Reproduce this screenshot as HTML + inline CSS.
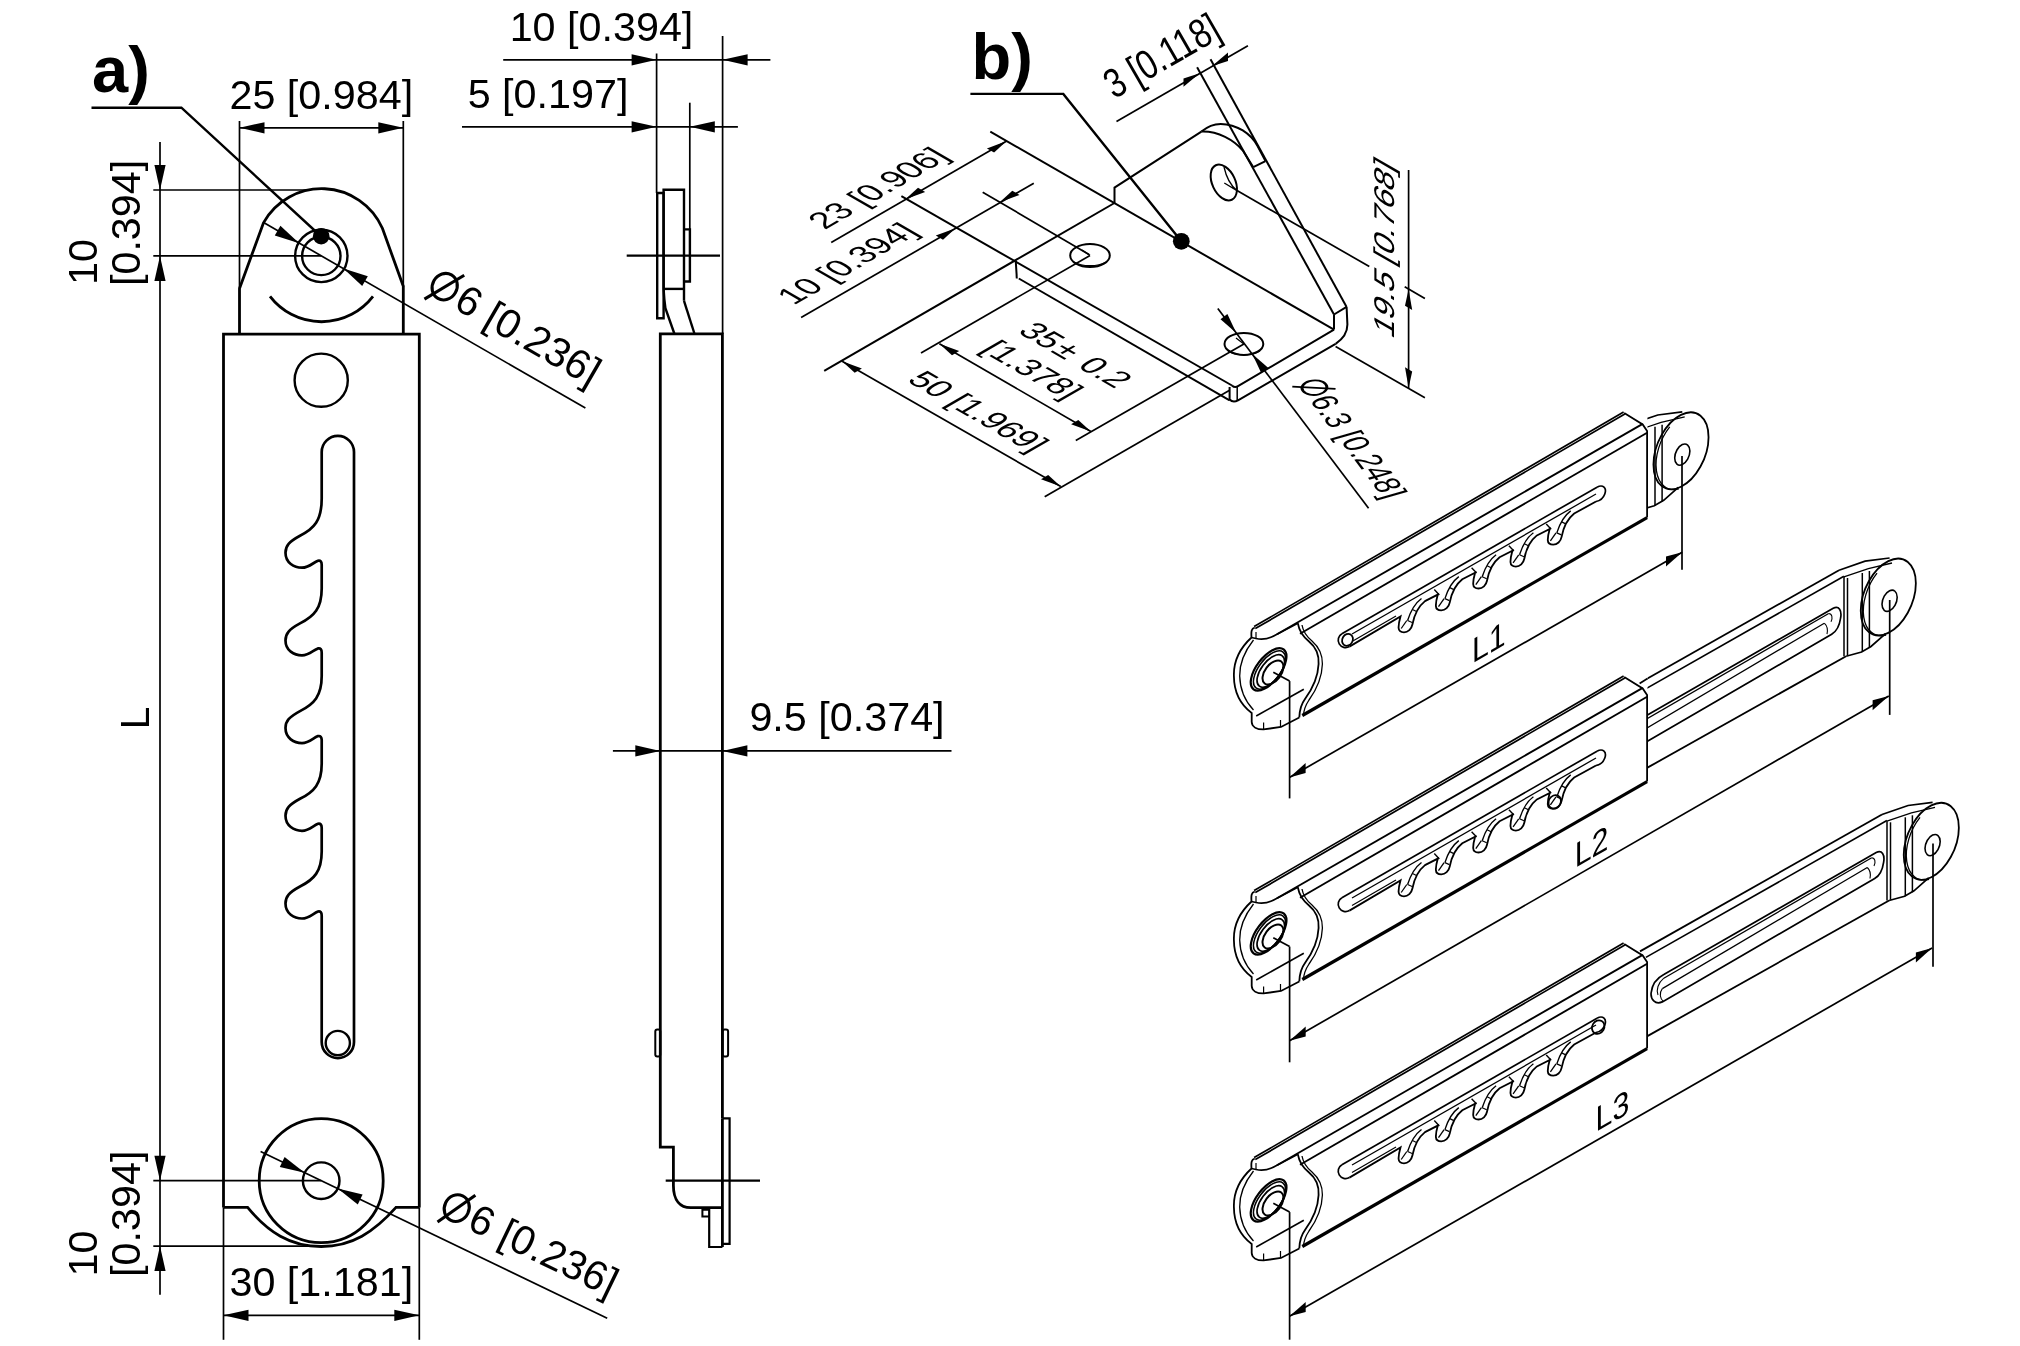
<!DOCTYPE html>
<html><head><meta charset="utf-8"><style>
html,body{margin:0;padding:0;background:#fff;}
svg{display:block;}
text{font-family:"Liberation Sans",sans-serif;fill:#000;stroke:none;}
svg{will-change:transform;}
</style></head><body>
<svg width="2020" height="1346" viewBox="0 0 2020 1346" stroke="#000" stroke-linecap="butt" stroke-linejoin="miter" fill="none">
<rect width="2020" height="1346" fill="#fff" stroke="none"/>
<text x="92" y="92" font-size="65" text-anchor="start" font-weight="bold">a)</text>
<polyline points="91.5,107.7 181.4,107.7 321.2,236.5" stroke-width="2.4" fill="none"/>
<circle cx="321.2" cy="236.2" r="8.3" stroke-width="0" fill="#000"/>
<text x="321.3" y="109.3" font-size="41.3" text-anchor="middle" font-weight="normal">25 [0.984]</text>
<line x1="239.5" y1="121" x2="239.5" y2="288" stroke-width="1.7"/>
<line x1="403.3" y1="121" x2="403.3" y2="287" stroke-width="1.7"/>
<line x1="239.5" y1="127.8" x2="403.3" y2="127.8" stroke-width="1.7"/>
<polygon points="239.5,127.8 264.5,122.2 264.5,133.4" fill="#000" stroke="none"/>
<polygon points="403.3,127.8 378.3,133.4 378.3,122.2" fill="#000" stroke="none"/>
<path d="M239.5,334 L239.5,288.4 L263.6,222.6 A66.5,66.5 0 0 1 382.4,228.3 L403.3,286.3 L403.3,334" stroke-width="2.8" fill="none"/>
<circle cx="321.3" cy="255.9" r="26.2" stroke-width="2.4" fill="none"/>
<circle cx="321.3" cy="255.9" r="19.2" stroke-width="2.4" fill="none"/>
<path d="M270,296.4 A65,65 0 0 0 373,296.4" stroke-width="2.8" fill="none"/>
<line x1="153.3" y1="190" x2="308.8" y2="190" stroke-width="1.7"/>
<line x1="153.3" y1="255.9" x2="321.3" y2="255.9" stroke-width="1.7"/>
<line x1="160" y1="142" x2="160" y2="1294.7" stroke-width="1.7"/>
<polygon points="160,190 154.4,165 165.6,165" fill="#000" stroke="none"/>
<polygon points="160,255.9 165.6,280.9 154.4,280.9" fill="#000" stroke="none"/>
<polygon points="160,1180.7 154.4,1155.7 165.6,1155.7" fill="#000" stroke="none"/>
<polygon points="160,1246.1 165.6,1271.1 154.4,1271.1" fill="#000" stroke="none"/>
<text x="0" y="0" font-size="41.3" text-anchor="middle" font-weight="normal" transform="translate(97.0,262.0) rotate(-90)">10</text>
<text x="0" y="0" font-size="41.3" text-anchor="middle" font-weight="normal" transform="translate(139.6,222.9) rotate(-90)">[0.394]</text>
<text x="0" y="0" font-size="41.3" text-anchor="start" font-weight="normal" transform="translate(148.6,729.6) rotate(-90)">L</text>
<line x1="263.6" y1="222.6" x2="585.4" y2="408.1" stroke-width="1.7"/>
<polygon points="299.2,243.2 274.8,235.5 280.4,225.8" fill="#000" stroke="none"/>
<polygon points="343.4,268.6 367.8,276.3 362.2,286" fill="#000" stroke="none"/>
<g transform="matrix(0.8660,0.5000,-0.5000,0.8660,424.8,291.7)">
<ellipse cx="14.7" cy="-14.3" rx="12.3" ry="13.6" stroke-width="3.1" fill="none"/>
<line x1="3.4" y1="6.6" x2="25.9" y2="-34" stroke-width="3.1"/>
<text x="31.6" y="0" font-size="41">6 [0.236]</text>
</g>
<path d="M223.5,1207.4 L223.5,334.1 L419.3,334.1 L419.3,1207.4" stroke-width="2.8" fill="none"/>
<circle cx="321.2" cy="380.2" r="26.6" stroke-width="2.4" fill="none"/>
<path d="M354,1042 L354,452 A16.15,16.15 0 0 0 321.7,452 L321.7,498.4 C321.7,520.7 314,528.7 300,535.7 C289,541.7 285.5,545.7 285.5,552.7 C285.5,562.7 294,567.7 302,567.7 C309,567.7 313,562.7 318,560.7 C320.5,560.2 321.7,561.7 321.7,564.7 L321.7,588.4 C321.7,608.4 314,616.4 300,623.4 C289,629.4 285.5,633.4 285.5,640.4 C285.5,650.4 294,655.4 302,655.4 C309,655.4 313,650.4 318,648.4 C320.5,647.9 321.7,649.4 321.7,652.4 L321.7,676.1 C321.7,696.1 314,704.1 300,711.1 C289,717.1 285.5,721.1 285.5,728.1 C285.5,738.1 294,743.1 302,743.1 C309,743.1 313,738.1 318,736.1 C320.5,735.6 321.7,737.1 321.7,740.1 L321.7,763.8 C321.7,783.8 314,791.8 300,798.8 C289,804.8 285.5,808.8 285.5,815.8 C285.5,825.8 294,830.8 302,830.8 C309,830.8 313,825.8 318,823.8 C320.5,823.3 321.7,824.8 321.7,827.8 L321.7,851.5 C321.7,871.5 314,879.5 300,886.5 C289,892.5 285.5,896.5 285.5,903.5 C285.5,913.5 294,918.5 302,918.5 C309,918.5 313,913.5 318,911.5 C320.5,911 321.7,912.5 321.7,915.5 L321.7,1042 A16.15,16.15 0 0 0 354,1042" stroke-width="2.7" fill="none"/>
<circle cx="337.8" cy="1043" r="12.1" stroke-width="2.4" fill="none"/>
<path d="M223.5,1207.4 L247.6,1207.4 C268,1232 290,1246.5 321.2,1246.5 C352,1246.5 374,1232 396,1207.4 L419.3,1207.4" stroke-width="2.8" fill="none"/>
<circle cx="321.2" cy="1180.7" r="62" stroke-width="2.8" fill="none"/>
<circle cx="321.2" cy="1180.7" r="18.3" stroke-width="2.4" fill="none"/>
<line x1="153.3" y1="1180.7" x2="321.2" y2="1180.7" stroke-width="1.7"/>
<line x1="153.3" y1="1246.1" x2="328.8" y2="1246.1" stroke-width="1.7"/>
<text x="0" y="0" font-size="41.3" text-anchor="middle" font-weight="normal" transform="translate(97.0,1253.5) rotate(-90)">10</text>
<text x="0" y="0" font-size="41.3" text-anchor="middle" font-weight="normal" transform="translate(139.6,1213.8) rotate(-90)">[0.394]</text>
<line x1="223.5" y1="1207.4" x2="223.5" y2="1339.8" stroke-width="1.7"/>
<line x1="419.3" y1="1207.4" x2="419.3" y2="1339.8" stroke-width="1.7"/>
<line x1="223.5" y1="1315.3" x2="419.3" y2="1315.3" stroke-width="1.7"/>
<polygon points="223.5,1315.3 248.5,1309.7 248.5,1320.9" fill="#000" stroke="none"/>
<polygon points="419.3,1315.3 394.3,1320.9 394.3,1309.7" fill="#000" stroke="none"/>
<text x="321.3" y="1295.7" font-size="41.3" text-anchor="middle" font-weight="normal">30 [1.181]</text>
<line x1="260.6" y1="1151.5" x2="607.2" y2="1318.2" stroke-width="1.7"/>
<polygon points="304.7,1172.8 279.8,1167 284.6,1156.9" fill="#000" stroke="none"/>
<polygon points="337.7,1188.6 362.6,1194.4 357.8,1204.5" fill="#000" stroke="none"/>
<g transform="matrix(0.9011,0.4337,-0.4337,0.9011,437.3,1214.6)">
<ellipse cx="14.7" cy="-14.3" rx="12.3" ry="13.6" stroke-width="3.1" fill="none"/>
<line x1="3.4" y1="6.6" x2="25.9" y2="-34" stroke-width="3.1"/>
<text x="31.6" y="0" font-size="41">6 [0.236]</text>
</g>
<text x="601.5" y="41.1" font-size="41.3" text-anchor="middle" font-weight="normal">10 [0.394]</text>
<line x1="503.2" y1="59.8" x2="770.4" y2="59.8" stroke-width="1.7"/>
<polygon points="656.6,59.8 631.6,65.4 631.6,54.2" fill="#000" stroke="none"/>
<polygon points="722.6,59.8 747.6,54.2 747.6,65.4" fill="#000" stroke="none"/>
<text x="548" y="108.3" font-size="41.3" text-anchor="middle" font-weight="normal">5 [0.197]</text>
<line x1="462" y1="126.8" x2="737.9" y2="126.8" stroke-width="1.7"/>
<polygon points="656.6,126.8 631.6,132.4 631.6,121.2" fill="#000" stroke="none"/>
<polygon points="689.8,126.8 714.8,121.2 714.8,132.4" fill="#000" stroke="none"/>
<line x1="656.6" y1="53.5" x2="656.6" y2="193" stroke-width="1.7"/>
<line x1="689.8" y1="102.7" x2="689.8" y2="229.4" stroke-width="1.7"/>
<line x1="722.6" y1="36" x2="722.6" y2="334" stroke-width="1.7"/>
<polygon points="657.2,193 663.6,193 663.6,318.3 657.2,318.3" stroke-width="2.4" fill="none"/>
<polyline points="663.6,289 663.6,189.8 684,189.8 684,300.8" stroke-width="2.4" fill="none"/>
<line x1="663.6" y1="288.9" x2="684" y2="288.9" stroke-width="2.4"/>
<polyline points="684,229.4 689.9,229.4 689.9,281.5 684,281.5" stroke-width="2.4" fill="none"/>
<path d="M663.6,289 C664,297 664.5,302 665.4,308.2 L674.3,333.5" stroke-width="2.4" fill="none"/>
<path d="M684,300.8 L694.4,333.5" stroke-width="2.4" fill="none"/>
<line x1="626.7" y1="255.6" x2="720" y2="255.6" stroke-width="2.2"/>
<path d="M722.4,1118.3 L722.4,333.9 L660.3,333.9 L660.3,1147.2 L673.4,1147.2 L673.4,1185.5 C673.4,1200 680,1207.7 690.8,1207.7 L722.4,1207.7" stroke-width="2.8" fill="none"/>
<line x1="722.4" y1="1118.3" x2="722.4" y2="1247" stroke-width="2.8"/>
<polyline points="722.4,1118.3 729.6,1118.3 729.6,1243.9 722.4,1243.9" stroke-width="2.2" fill="none"/>
<polyline points="709.2,1207.7 709.2,1247 722.4,1247" stroke-width="2.2" fill="none"/>
<polyline points="709.2,1209.7 702.4,1209.7 702.4,1216.4 709.2,1216.4" stroke-width="2" fill="none"/>
<rect x="655.3" y="1029.4" width="5" height="27.2" rx="2" stroke-width="2" fill="none"/>
<rect x="722.6" y="1029.4" width="5.5" height="27.2" rx="2" stroke-width="2" fill="none"/>
<line x1="665.7" y1="1180.7" x2="760" y2="1180.7" stroke-width="2.2"/>
<line x1="612.9" y1="750.9" x2="951.5" y2="750.9" stroke-width="1.7"/>
<polygon points="660.3,750.9 635.3,756.5 635.3,745.3" fill="#000" stroke="none"/>
<polygon points="722.4,750.9 747.4,745.3 747.4,756.5" fill="#000" stroke="none"/>
<text x="847" y="730.5" font-size="41.3" text-anchor="middle" font-weight="normal">9.5 [0.374]</text>
<text x="971.6" y="79.2" font-size="65" text-anchor="start" font-weight="bold">b)</text>
<polyline points="970.4,93.9 1063.3,93.9 1181.3,241.3" stroke-width="2.4" fill="none"/>
<circle cx="1181.3" cy="241.3" r="8.4" stroke-width="0" fill="#000"/>
<line x1="1116.5" y1="121.4" x2="1247.9" y2="45.7" stroke-width="1.7"/>
<polygon points="1199.7,73.2 1183.5,86.8 1183.5,78.4" fill="#000" stroke="none"/>
<polygon points="1211.8,66.2 1228,61 1228,52.6" fill="#000" stroke="none"/>
<text x="0" y="0" font-size="41.3" text-anchor="start" font-weight="normal" transform="matrix(0.6930,-0.4000,0.5000,0.8660,1113.9,99.6)">3 [0.118]</text>
<line x1="1197.1" y1="67.2" x2="1334" y2="314.5" stroke-width="2.0"/>
<line x1="1210.5" y1="59.2" x2="1346.6" y2="307" stroke-width="2.0"/>
<polyline points="1114.5,203 1114.5,187.6 1201.4,131.6" stroke-width="2.0" fill="none"/>
<path d="M1201.4,131.6 C1208,126 1214,123.9 1220.7,123.9 C1237,124 1251,134 1257.4,145.8 L1265.5,161.1" stroke-width="2.0" fill="none"/>
<path d="M1201.4,131.6 C1218,131 1234,140 1243.1,150.9 L1253.3,167.2" stroke-width="2.0" fill="none"/>
<line x1="1253.3" y1="167.2" x2="1265.5" y2="161.1" stroke-width="2.0"/>
<ellipse cx="1223.8" cy="182.5" rx="19" ry="11.5" transform="rotate(65 1223.8 182.5)" stroke-width="2.0" fill="none"/>
<path d="M1224,167 C1226,176 1230,185 1237,190.6 M1224.3,183 L1237,190.6" stroke-width="1.3" fill="none"/>
<line x1="1237" y1="190.6" x2="1369.3" y2="266.5" stroke-width="1.7"/>
<line x1="1404.7" y1="286.7" x2="1424.9" y2="298.5" stroke-width="1.7"/>
<line x1="990.3" y1="131.6" x2="1334" y2="329.6" stroke-width="2.0"/>
<line x1="1114.5" y1="203" x2="824.2" y2="370.8" stroke-width="2.0"/>
<line x1="901.4" y1="196.2" x2="1232" y2="385.5" stroke-width="2.0"/>
<line x1="1015.8" y1="261.4" x2="1016.8" y2="278.5" stroke-width="2.0"/>
<line x1="1018.8" y1="278.5" x2="1229.6" y2="400.3" stroke-width="2.0"/>
<path d="M1232,385.5 C1234,387.5 1236,387.5 1238,386.2 L1334,329.6" stroke-width="2.0" fill="none"/>
<path d="M1229.6,387 L1229.6,399.5 C1232,402 1235,402 1238,400.3 L1335.6,343.9" stroke-width="2.0" fill="none"/>
<line x1="1237.2" y1="387" x2="1237.2" y2="400.3" stroke-width="1.5"/>
<line x1="1334" y1="314.5" x2="1334" y2="329.6" stroke-width="2.0"/>
<line x1="1334" y1="314.5" x2="1346.6" y2="306.9" stroke-width="2.0"/>
<path d="M1346.6,307 L1347.4,324.6 C1347.4,333 1343,339 1335.6,343.9" stroke-width="2.0" fill="none"/>
<ellipse cx="1090" cy="255.4" rx="19.8" ry="11.5" transform="rotate(0 1090 255.4)" stroke-width="2.0" fill="none"/>
<ellipse cx="1243.9" cy="343.9" rx="19.4" ry="11" transform="rotate(0 1243.9 343.9)" stroke-width="2.0" fill="none"/>
<path d="M1090,255.4 L1082,250 M1074,262 C1082,267 1098,267 1106,262" stroke-width="1.3" fill="none"/>
<path d="M1243.9,343.9 L1236,338 M1228,351 C1236,356 1252,356 1260,351" stroke-width="1.3" fill="none"/>
<line x1="982.7" y1="192.2" x2="1089" y2="254.4" stroke-width="1.7"/>
<line x1="921" y1="353" x2="1090" y2="255.4" stroke-width="1.7"/>
<line x1="1075.8" y1="440.5" x2="1243.9" y2="343.9" stroke-width="1.7"/>
<line x1="1044.7" y1="496.7" x2="1229.6" y2="390.2" stroke-width="1.7"/>
<line x1="831.2" y1="242.4" x2="1006.7" y2="141.1" stroke-width="1.7"/>
<polygon points="1006.7,141.1 994.1,152.6 986.9,148.4" fill="#000" stroke="none"/>
<polygon points="905.4,199.2 925.2,191.9 918,187.7" fill="#000" stroke="none"/>
<line x1="801.1" y1="317.6" x2="1033.8" y2="183.2" stroke-width="1.7"/>
<polygon points="955.6,228.3 943,239.8 935.8,235.6" fill="#000" stroke="none"/>
<polygon points="999.7,202.2 1019.5,194.9 1012.3,190.7" fill="#000" stroke="none"/>
<line x1="939.4" y1="343.8" x2="1090.9" y2="431.5" stroke-width="1.7"/>
<polygon points="939.4,343.8 959.2,351.1 952,355.3" fill="#000" stroke="none"/>
<polygon points="1090.9,431.5 1078.3,420 1071.1,424.2" fill="#000" stroke="none"/>
<line x1="842.1" y1="361.2" x2="1060.8" y2="486.6" stroke-width="1.7"/>
<polygon points="842.1,361.2 861.9,368.5 854.7,372.7" fill="#000" stroke="none"/>
<polygon points="1060.8,486.6 1048.2,475.1 1041,479.3" fill="#000" stroke="none"/>
<line x1="1335.6" y1="346.4" x2="1424.9" y2="397.8" stroke-width="1.7"/>
<line x1="1408.6" y1="170" x2="1408.6" y2="388" stroke-width="1.7"/>
<polygon points="1408.6,289.2 1412.2,310 1405,305.8" fill="#000" stroke="none"/>
<polygon points="1408.6,388 1412.2,371.4 1405,367.2" fill="#000" stroke="none"/>
<line x1="1217.8" y1="308.6" x2="1368.6" y2="508.2" stroke-width="1.7"/>
<polygon points="1236.3,333 1220.5,319.2 1227.4,314.1" fill="#000" stroke="none"/>
<polygon points="1252.3,354 1268.1,367.8 1261.2,372.9" fill="#000" stroke="none"/>
<text x="0" y="0" font-size="32.7" text-anchor="start" font-weight="normal" transform="matrix(0.8660,-0.5000,0.8660,0.5000,824.8,230.0)">23 [0.906]</text>
<text x="0" y="0" font-size="32.7" text-anchor="start" font-weight="normal" transform="matrix(0.8660,-0.5000,0.8660,0.5000,793.7,305.5)">10 [0.394]</text>
<text x="0" y="0" font-size="33" text-anchor="start" font-weight="normal" transform="matrix(0.0000,-1.0000,0.8660,0.5000,1394.3,340.0)">19.5 [0.768]</text>
<text x="0" y="0" font-size="32.7" text-anchor="start" font-weight="normal" transform="matrix(0.8660,0.5000,-0.8660,0.5000,1016.5,332.0)">35<tspan dx="2">±</tspan><tspan dx="3.5"> 0.2</tspan></text>
<text x="0" y="0" font-size="32.7" text-anchor="start" font-weight="normal" transform="matrix(0.8660,0.5000,-0.8660,0.5000,979.5,350.3)">[1.378]</text>
<text x="0" y="0" font-size="32.7" text-anchor="start" font-weight="normal" transform="matrix(0.8660,0.5000,-0.8660,0.5000,905.8,380.7)">50 [1.969]</text>
<g transform="matrix(0.4581,0.6064,-0.9610,0.2760,1296.5,383.3)">
<ellipse cx="12.9" cy="-12.5" rx="10.8" ry="11.9" stroke-width="2.7" fill="none"/>
<line x1="3" y1="5.8" x2="22.7" y2="-29.8" stroke-width="2.7"/>
<text x="27.2" y="0" font-size="35">6.3 [0.248]</text>
</g>
<defs><clipPath id="c1"><rect x="1854.7" y="500" width="120" height="200"/></clipPath></defs>
<g id="hous">
<line x1="1254.1" y1="626.6" x2="1623.6" y2="412.1" stroke-width="1.7"/>
<line x1="1255.3" y1="628.6" x2="1624.8" y2="414.1" stroke-width="1.7"/>
<line x1="1277" y1="634.2" x2="1642.7" y2="423.9" stroke-width="1.9"/>
<line x1="1300" y1="633.8" x2="1647.1" y2="432.7" stroke-width="1.9"/>
<line x1="1302.3" y1="715.5" x2="1647.1" y2="517.6" stroke-width="3.2"/>
<polyline points="1624.2,413.1 1642.7,424.5 1647.1,431 1647.1,517.6" stroke-width="1.8" fill="none"/>
<path d="M1254.7,627.6 C1251.5,628.5 1251,631 1251.5,637.5 C1240,648 1233.5,662 1233.9,676 C1234,692 1241,705 1251.7,713 L1251.7,722 C1252,727 1257,729.5 1263.6,729.4 L1281,727 L1299.3,717.5" stroke-width="1.8" fill="none"/>
<path d="M1253.5,640 C1244,652 1239.5,664 1239.7,676 C1240,690 1245,701 1253.5,710" stroke-width="1.3" fill="none"/>
<path d="M1251.5,637.5 L1256,638.5 C1262,640 1270,638.5 1277,634.3 L1297.8,623.2" stroke-width="1.6" fill="none"/>
<path d="M1256,638.5 L1256,632" stroke-width="1.2" fill="none"/>
<path d="M1263.6,729.4 L1263.6,722.5 M1280.5,727 L1280.5,720" stroke-width="1.2" fill="none"/>
<line x1="1256.2" y1="716" x2="1303.8" y2="689.3" stroke-width="1.6"/>
<path d="M1297.8,623.2 C1299,630 1302,636 1309,641.5 C1317,648 1319,657 1318.6,664 C1318,677 1313,688 1305,699 C1300.5,705 1299.5,711 1299.3,717.5" stroke-width="1.8" fill="none"/>
<path d="M1302,625 C1303,631 1306,636 1312,641 C1320,648 1322.5,657 1322.4,664 C1322,677 1317,689 1309,700 C1305,706 1303.5,711 1303.5,716" stroke-width="1.3" fill="none"/>
<ellipse cx="1268.6" cy="669.4" rx="25" ry="12" transform="rotate(-53 1268.6 669.4)" stroke-width="2.2" fill="none"/>
<ellipse cx="1269.5" cy="670" rx="22.5" ry="10.8" transform="rotate(-53 1269.5 670)" stroke-width="1.5" fill="none"/>
<ellipse cx="1270.8" cy="671" rx="19" ry="9.6" transform="rotate(-53 1270.8 671)" stroke-width="1.7" fill="none"/>
<ellipse cx="1273" cy="672.5" rx="13.8" ry="8" transform="rotate(-53 1273 672.5)" stroke-width="2.0" fill="none"/>
<line x1="1341.9" y1="633.7" x2="1597" y2="487.2" stroke-width="1.7"/>
<line x1="1352" y1="634" x2="1596" y2="494" stroke-width="1.3"/>
<path d="M1597,487.2 C1603,484 1607,488 1604.8,494 C1603,499 1599,501 1596,501.5" stroke-width="1.7" fill="none"/>
<path d="M1349.4,646.6 A7.45,7.45 0 0 1 1341.9,633.7" stroke-width="1.7" fill="none"/>
<line x1="1352" y1="641.5" x2="1396" y2="616" stroke-width="1.2"/>
<path d="M1349.4,646.6 L1400.5,616.5 C1399.5,620 1398.4,624 1398.6,628 C1398.8,631.5 1401,632.3 1404,632.3 C1408,632.3 1411.5,629 1412.4,624.5 C1414,616 1417.5,607 1425,601.1 L1437.8,594.6 C1436.8,598.1 1435.7,602.1 1435.9,606.1 C1436.1,609.6 1438.3,610.4 1441.3,610.4 C1445.3,610.4 1448.8,607.1 1449.7,602.6 C1451.3,594.1 1454.8,585.1 1462.3,579.2 L1475.1,572.7 C1474.1,576.2 1473,580.2 1473.2,584.2 C1473.4,587.7 1475.6,588.5 1478.6,588.5 C1482.6,588.5 1486.1,585.2 1487,580.7 C1488.6,572.2 1492.1,563.2 1499.6,557.3 L1512.4,550.8 C1511.4,554.3 1510.3,558.3 1510.5,562.3 C1510.7,565.8 1512.9,566.6 1515.9,566.6 C1519.9,566.6 1523.4,563.3 1524.3,558.8 C1525.9,550.3 1529.4,541.3 1536.9,535.4 L1549.7,528.9 C1548.7,532.4 1547.6,536.4 1547.8,540.4 C1548,543.9 1550.2,544.7 1553.2,544.7 C1557.2,544.7 1560.7,541.4 1561.6,536.9 C1563.2,528.4 1566.7,519.4 1574.2,513.5 L1596,501.5" stroke-width="1.8" fill="none"/>
<path d="M1407.6,620.5 C1410,613 1414,604 1421.5,598.5" stroke-width="1.4" fill="none"/>
<path d="M1401.2,628.5 L1406.8,620.5" stroke-width="1.3" fill="none"/>
<line x1="1407.6" y1="620.5" x2="1412.1" y2="622.5" stroke-width="1.2"/>
<line x1="1412.5" y1="609.5" x2="1416.5" y2="611.5" stroke-width="1.2"/>
<path d="M1444.9,598.6 C1447.3,591.1 1451.3,582.1 1458.8,576.6" stroke-width="1.4" fill="none"/>
<path d="M1438.5,606.6 L1444.1,598.6" stroke-width="1.3" fill="none"/>
<line x1="1444.9" y1="598.6" x2="1449.4" y2="600.6" stroke-width="1.2"/>
<line x1="1449.8" y1="587.6" x2="1453.8" y2="589.6" stroke-width="1.2"/>
<line x1="1434.3" y1="589.6" x2="1439.3" y2="594.9" stroke-width="1.4"/>
<path d="M1482.2,576.7 C1484.6,569.2 1488.6,560.2 1496.1,554.7" stroke-width="1.4" fill="none"/>
<path d="M1475.8,584.7 L1481.4,576.7" stroke-width="1.3" fill="none"/>
<line x1="1482.2" y1="576.7" x2="1486.7" y2="578.7" stroke-width="1.2"/>
<line x1="1487.1" y1="565.7" x2="1491.1" y2="567.7" stroke-width="1.2"/>
<line x1="1471.6" y1="567.7" x2="1476.6" y2="573" stroke-width="1.4"/>
<path d="M1519.5,554.8 C1521.9,547.3 1525.9,538.3 1533.4,532.8" stroke-width="1.4" fill="none"/>
<path d="M1513.1,562.8 L1518.7,554.8" stroke-width="1.3" fill="none"/>
<line x1="1519.5" y1="554.8" x2="1524" y2="556.8" stroke-width="1.2"/>
<line x1="1524.4" y1="543.8" x2="1528.4" y2="545.8" stroke-width="1.2"/>
<line x1="1508.9" y1="545.8" x2="1513.9" y2="551.1" stroke-width="1.4"/>
<path d="M1556.8,532.9 C1559.2,525.4 1563.2,516.4 1570.7,510.9" stroke-width="1.4" fill="none"/>
<path d="M1550.4,540.9 L1556,532.9" stroke-width="1.3" fill="none"/>
<line x1="1556.8" y1="532.9" x2="1561.3" y2="534.9" stroke-width="1.2"/>
<line x1="1561.7" y1="521.9" x2="1565.7" y2="523.9" stroke-width="1.2"/>
<line x1="1546.2" y1="523.9" x2="1551.2" y2="529.2" stroke-width="1.4"/>
</g>
<use href="#hous" transform="translate(0,264)"/>
<use href="#hous" transform="translate(0,531)"/>
<ellipse cx="1347.5" cy="639.8" rx="5.2" ry="6.2" transform="rotate(30 1347.5 639.8)" stroke-width="1.8" fill="none"/>
<ellipse cx="1554.7" cy="801.9" rx="6" ry="7" transform="rotate(30 1554.7 801.9)" stroke-width="1.8" fill="none"/>
<ellipse cx="1598.2" cy="1027.1" rx="6" ry="7" transform="rotate(30 1598.2 1027.1)" stroke-width="1.8" fill="none"/>
<g transform="translate(-207.3,-146.2)">
<g clip-path="url(#c1)">
<polyline points="1839,570.2 1865.1,561.2 1889.6,558" stroke-width="1.7" fill="none"/>
<polyline points="1843.9,576.8 1868.4,568.6 1892,563" stroke-width="1.3" fill="none"/>
<line x1="1844" y1="577" x2="1844" y2="656.2" stroke-width="1.5"/>
<line x1="1847.5" y1="578" x2="1847.5" y2="655.5" stroke-width="1.5"/>
<line x1="1862.3" y1="573" x2="1862.3" y2="652" stroke-width="1.5"/>
<line x1="1869.4" y1="571" x2="1869.4" y2="648" stroke-width="1.5"/>
<polyline points="1846.1,656.2 1861.6,652 1871,646.5 1885.6,633.6" stroke-width="1.7" fill="none"/>
<circle r="1" transform="matrix(27.55,-13.66,0,35.9,1888.3,597)" stroke-width="1.8" vector-effect="non-scaling-stroke" fill="none"/>
<path d="M -0.17,0.98 A1,1 0 0 1 -0.5,-0.87" transform="matrix(27.55,-13.66,0,35.9,1890.8,597.5)" stroke-width="1.3" vector-effect="non-scaling-stroke" fill="none"/>
<circle r="1" transform="matrix(7.6,-3.5,0,10,1889.6,600.8)" stroke-width="1.6" vector-effect="non-scaling-stroke" fill="none"/>
</g>
</g>
<g>
<polyline points="1839,570.2 1865.1,561.2 1889.6,558" stroke-width="1.7" fill="none"/>
<polyline points="1843.9,576.8 1868.4,568.6 1892,563" stroke-width="1.3" fill="none"/>
<line x1="1844" y1="577" x2="1844" y2="656.2" stroke-width="1.5"/>
<line x1="1847.5" y1="578" x2="1847.5" y2="655.5" stroke-width="1.5"/>
<line x1="1862.3" y1="573" x2="1862.3" y2="652" stroke-width="1.5"/>
<line x1="1869.4" y1="571" x2="1869.4" y2="648" stroke-width="1.5"/>
<polyline points="1846.1,656.2 1861.6,652 1871,646.5 1885.6,633.6" stroke-width="1.7" fill="none"/>
<circle r="1" transform="matrix(27.55,-13.66,0,35.9,1888.3,597)" stroke-width="1.8" vector-effect="non-scaling-stroke" fill="none"/>
<path d="M -0.17,0.98 A1,1 0 0 1 -0.5,-0.87" transform="matrix(27.55,-13.66,0,35.9,1890.8,597.5)" stroke-width="1.3" vector-effect="non-scaling-stroke" fill="none"/>
<circle r="1" transform="matrix(7.6,-3.5,0,10,1889.6,600.8)" stroke-width="1.6" vector-effect="non-scaling-stroke" fill="none"/>
</g>
<g transform="translate(43,244.3)">
<g>
<polyline points="1839,570.2 1865.1,561.2 1889.6,558" stroke-width="1.7" fill="none"/>
<polyline points="1843.9,576.8 1868.4,568.6 1892,563" stroke-width="1.3" fill="none"/>
<line x1="1844" y1="577" x2="1844" y2="656.2" stroke-width="1.5"/>
<line x1="1847.5" y1="578" x2="1847.5" y2="655.5" stroke-width="1.5"/>
<line x1="1862.3" y1="573" x2="1862.3" y2="652" stroke-width="1.5"/>
<line x1="1869.4" y1="571" x2="1869.4" y2="648" stroke-width="1.5"/>
<polyline points="1846.1,656.2 1861.6,652 1871,646.5 1885.6,633.6" stroke-width="1.7" fill="none"/>
<circle r="1" transform="matrix(27.55,-13.66,0,35.9,1888.3,597)" stroke-width="1.8" vector-effect="non-scaling-stroke" fill="none"/>
<path d="M -0.17,0.98 A1,1 0 0 1 -0.5,-0.87" transform="matrix(27.55,-13.66,0,35.9,1890.8,597.5)" stroke-width="1.3" vector-effect="non-scaling-stroke" fill="none"/>
<circle r="1" transform="matrix(7.6,-3.5,0,10,1889.6,600.8)" stroke-width="1.6" vector-effect="non-scaling-stroke" fill="none"/>
</g>
</g>
<line x1="1640" y1="951.4" x2="1882" y2="814.5" stroke-width="1.8"/>
<line x1="1645.9" y1="957.4" x2="1886.9" y2="820.5" stroke-width="1.6"/>
<path d="M1663.8,974.5 L1876.2,852.6 C1882,849.5 1885,855 1883.6,862.3 C1882.5,870 1879,876 1874.7,878.6 L1662.3,1001.9 C1655,1005 1650.5,999 1651.1,993 C1652,985 1657,978 1663.8,974.5 Z" stroke-width="1.7" fill="none"/>
<line x1="1663.8" y1="978.2" x2="1871.7" y2="857.8" stroke-width="1.3"/>
<line x1="1662.3" y1="988.6" x2="1867.3" y2="867.5" stroke-width="1.3"/>
<path d="M1871.7,857.8 C1875,858 1876,862 1874,866" stroke-width="1.1" fill="none"/>
<path d="M1867.3,867.5 C1870,870 1871,874 1870,878.5" stroke-width="1.1" fill="none"/>
<path d="M1663.8,978.2 C1658,983 1656,990 1658,995" stroke-width="1.1" fill="none"/>
<path d="M1662.3,988.6 C1659,993 1660,999 1663.5,1001.5" stroke-width="1.1" fill="none"/>
<line x1="1647.4" y1="1036.1" x2="1889.1" y2="900.5" stroke-width="1.8"/>
<defs><clipPath id="c2"><rect x="1690.5" y="700" width="300" height="400"/></clipPath></defs>
<g transform="translate(-43,-244.3)"><g clip-path="url(#c2)">
<line x1="1640" y1="951.4" x2="1882" y2="814.5" stroke-width="1.8"/>
<line x1="1645.9" y1="957.4" x2="1886.9" y2="820.5" stroke-width="1.6"/>
<path d="M1663.8,974.5 L1876.2,852.6 C1882,849.5 1885,855 1883.6,862.3 C1882.5,870 1879,876 1874.7,878.6 L1662.3,1001.9 C1655,1005 1650.5,999 1651.1,993 C1652,985 1657,978 1663.8,974.5 Z" stroke-width="1.7" fill="none"/>
<line x1="1663.8" y1="978.2" x2="1871.7" y2="857.8" stroke-width="1.3"/>
<line x1="1662.3" y1="988.6" x2="1867.3" y2="867.5" stroke-width="1.3"/>
<path d="M1871.7,857.8 C1875,858 1876,862 1874,866" stroke-width="1.1" fill="none"/>
<path d="M1867.3,867.5 C1870,870 1871,874 1870,878.5" stroke-width="1.1" fill="none"/>
<path d="M1663.8,978.2 C1658,983 1656,990 1658,995" stroke-width="1.1" fill="none"/>
<path d="M1662.3,988.6 C1659,993 1660,999 1663.5,1001.5" stroke-width="1.1" fill="none"/>
<line x1="1647.4" y1="1036.1" x2="1889.1" y2="900.5" stroke-width="1.8"/>
</g></g>
<line x1="1639.6" y1="683.4" x2="1647.5" y2="678.6" stroke-width="1.8"/>
<line x1="1273.3" y1="672.2" x2="1289.6" y2="681.1" stroke-width="1.7"/>
<line x1="1289.6" y1="681.1" x2="1289.6" y2="798.4" stroke-width="1.7"/>
<line x1="1682" y1="456" x2="1682" y2="569.7" stroke-width="1.7"/>
<line x1="1289.4" y1="777.4" x2="1682.2" y2="552.2" stroke-width="1.7"/>
<polygon points="1289.4,777.4 1305.6,773.1 1305.6,763.1" fill="#000" stroke="none"/>
<polygon points="1682.2,552.2 1666,566.5 1666,556.5" fill="#000" stroke="none"/>
<line x1="1273.3" y1="937.7" x2="1289.6" y2="946.6" stroke-width="1.7"/>
<line x1="1289.6" y1="946.6" x2="1289.6" y2="1062.3" stroke-width="1.7"/>
<line x1="1889.7" y1="600" x2="1889.7" y2="714.9" stroke-width="1.7"/>
<line x1="1289.5" y1="1040.8" x2="1888.8" y2="696" stroke-width="1.7"/>
<polygon points="1289.5,1040.8 1305.7,1036.5 1305.7,1026.5" fill="#000" stroke="none"/>
<polygon points="1888.8,696 1872.6,710.3 1872.6,700.3" fill="#000" stroke="none"/>
<line x1="1273.3" y1="1203.2" x2="1289.6" y2="1212.1" stroke-width="1.7"/>
<line x1="1289.6" y1="1212.1" x2="1289.6" y2="1339.7" stroke-width="1.7"/>
<line x1="1933" y1="843.5" x2="1933" y2="966.7" stroke-width="1.7"/>
<line x1="1289.5" y1="1316.3" x2="1932.1" y2="948.1" stroke-width="1.7"/>
<polygon points="1289.5,1316.3 1305.7,1312 1305.7,1302" fill="#000" stroke="none"/>
<polygon points="1932.1,948.1 1915.9,962.4 1915.9,952.4" fill="#000" stroke="none"/>
<text x="0" y="0" font-size="35" text-anchor="start" font-weight="normal" transform="matrix(0.8660,-0.5000,0.0000,1.0000,1471.9,663.8)">L1</text>
<text x="0" y="0" font-size="35" text-anchor="start" font-weight="normal" transform="matrix(0.8660,-0.5000,0.0000,1.0000,1574.7,868.2)">L2</text>
<text x="0" y="0" font-size="35" text-anchor="start" font-weight="normal" transform="matrix(0.8660,-0.5000,0.0000,1.0000,1595.6,1132.3)">L3</text>
</svg></body></html>
